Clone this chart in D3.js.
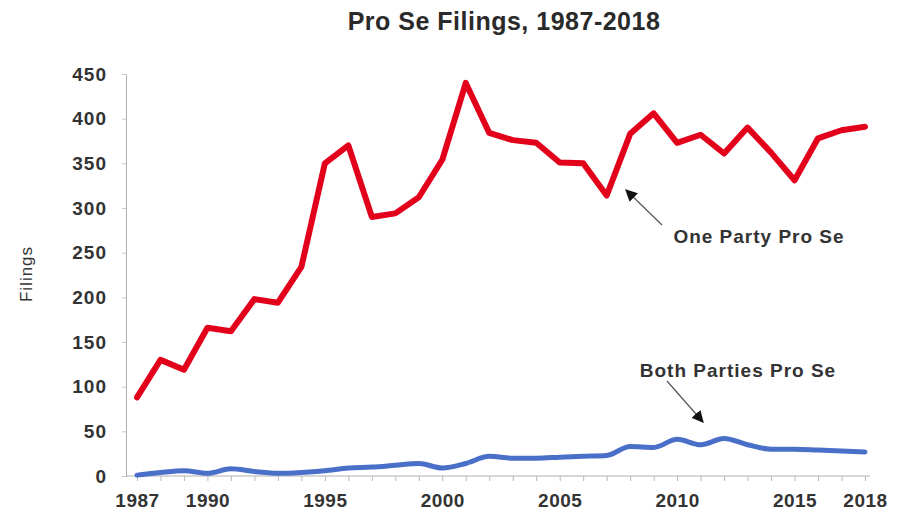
<!DOCTYPE html>
<html>
<head>
<meta charset="utf-8">
<script src="https://cdn.jsdelivr.net/npm/d3@7"></script>
<style>
  html, body { margin: 0; padding: 0; background: #fff; }
  svg { display: block; font-family: Arial, "Liberation Sans", sans-serif; }
</style>
</head>
<body>
<svg id="chart" width="897" height="512"></svg>
<script>
// Years covered by the series
const years = d3.range(1987, 2019);

// Filings where one party appeared pro se
const onePartyProSe = [88, 130, 119, 166, 162, 198, 194, 234, 350, 370,
  290, 294, 312, 354, 440, 384, 376, 373, 351, 350,
  314, 383, 406, 373, 382, 361, 390, 362, 331, 378, 387, 391];

// Filings where both parties appeared pro se
const bothPartiesProSe = [1, 4, 6, 3, 8, 5, 3, 4, 6, 9,
  10, 12, 14, 9, 14, 22, 20, 20, 21, 22,
  23, 33, 32, 41, 35, 42, 35, 30, 30, 29, 28, 27];

const yTicks = [0, 50, 100, 150, 200, 250, 300, 350, 400, 450];
const xTickLabels = [1987, 1990, 1995, 2000, 2005, 2010, 2015, 2018];

const svg = d3.select("#chart");
const FONT = "Arial, 'Liberation Sans', sans-serif";

const x = d3.scaleLinear().domain([1987, 2018]).range([137, 865]);
const y = d3.scaleLinear().domain([0, 450]).range([476, 74]);

// Title
svg.append("text")
  .attr("x", 504).attr("y", 30)
  .attr("text-anchor", "middle")
  .attr("font-size", 25).attr("font-weight", "bold")
  .attr("letter-spacing", 0.5)
  .attr("fill", "#2a2a2a")
  .text("Pro Se Filings, 1987-2018");

// Y axis
const yAxis = svg.append("g")
  .attr("transform", "translate(126,0)")
  .call(d3.axisLeft(y).tickValues(yTicks).tickSize(4).tickPadding(15));
yAxis.select(".domain").attr("stroke", "#b0b0b0");
yAxis.selectAll(".tick line").attr("stroke", "#c8c8c8");
yAxis.selectAll(".tick text")
  .attr("font-size", 19).attr("font-weight", "bold").attr("fill", "#333")
  .attr("letter-spacing", 1)
  .attr("font-family", FONT);

// X axis: tick marks every year, labels at selected years
const xAxis = svg.append("g")
  .attr("transform", "translate(0,476)")
  .call(d3.axisBottom(x).tickValues(years).tickSize(5).tickSizeOuter(0)
    .tickFormat(d => xTickLabels.includes(d) ? d : ""));
xAxis.select(".domain").attr("stroke", "#b0b0b0").attr("d", "M126,0H870");
xAxis.selectAll(".tick line").attr("stroke", "#b8b8b8");
xAxis.selectAll(".tick text")
  .attr("dy", 0).attr("y", 31)
  .attr("font-size", 19).attr("font-weight", "bold").attr("fill", "#333")
  .attr("letter-spacing", 0.5)
  .attr("font-family", FONT);

// Y axis title
svg.append("text")
  .attr("transform", "translate(32,274) rotate(-90)")
  .attr("text-anchor", "middle")
  .attr("font-size", 17).attr("fill", "#333")
  .attr("letter-spacing", 1)
  .text("Filings");

// Series lines
const redLine = d3.line()
  .x((d, i) => x(years[i]))
  .y(d => y(d));
const blueLine = d3.line()
  .x((d, i) => x(years[i]))
  .y(d => y(d))
  .curve(d3.curveMonotoneX);

svg.append("path")
  .datum(bothPartiesProSe)
  .attr("d", blueLine)
  .attr("fill", "none")
  .attr("stroke", "#4a6fc9")
  .attr("stroke-width", 5)
  .attr("stroke-linejoin", "round")
  .attr("stroke-linecap", "round");

svg.append("path")
  .datum(onePartyProSe)
  .attr("d", redLine)
  .attr("fill", "none")
  .attr("stroke", "#e3001b")
  .attr("stroke-width", 6)
  .attr("stroke-linejoin", "round")
  .attr("stroke-linecap", "round");

// Annotation arrows
const defs = svg.append("defs");
defs.append("marker")
  .attr("id", "head")
  .attr("viewBox", "0 0 10 10")
  .attr("refX", 9).attr("refY", 5)
  .attr("markerWidth", 12).attr("markerHeight", 12)
  .attr("markerUnits", "userSpaceOnUse")
  .attr("orient", "auto")
  .append("path").attr("d", "M0,0L10,5L0,10Z").attr("fill", "#111");

svg.append("line")
  .attr("x1", 662).attr("y1", 225).attr("x2", 626).attr("y2", 190)
  .attr("stroke", "#555").attr("stroke-width", 1.2)
  .attr("marker-end", "url(#head)");

svg.append("line")
  .attr("x1", 667).attr("y1", 381).attr("x2", 703).attr("y2", 422)
  .attr("stroke", "#555").attr("stroke-width", 1.2)
  .attr("marker-end", "url(#head)");

// Series labels
svg.append("text")
  .attr("x", 759).attr("y", 243)
  .attr("text-anchor", "middle")
  .attr("font-size", 19).attr("font-weight", "bold").attr("fill", "#333")
  .attr("letter-spacing", 1)
  .text("One Party Pro Se");

svg.append("text")
  .attr("x", 738).attr("y", 377)
  .attr("text-anchor", "middle")
  .attr("font-size", 19).attr("font-weight", "bold").attr("fill", "#333")
  .attr("letter-spacing", 1)
  .text("Both Parties Pro Se");
</script>
</body>
</html>
